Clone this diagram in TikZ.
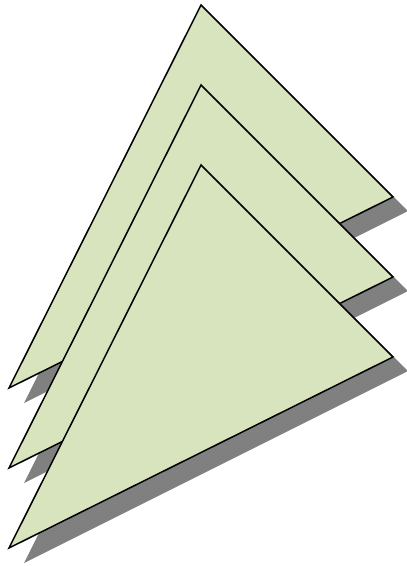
\documentclass[tikz,border=0pt]{standalone}
\definecolor{trifill}{HTML}{D7E4BD}
\definecolor{shade}{HTML}{808080}
\begin{document}
\begin{tikzpicture}[x=1pt,y=-1pt,
  tri/.style={fill=trifill,draw=black,line width=1.5pt,line join=miter},
  trishadow/.style={fill=shade}]
\useasboundingbox (0,0) rectangle (407,566);
\foreach \dy in {0,80,160}{
  \fill[trishadow] (216,{19+\dy}) -- (408,{211+\dy}) -- (24,{403+\dy}) -- cycle;
  \draw[tri] (201,{5+\dy}) -- (393,{197+\dy}) -- (9,{388+\dy}) -- cycle;
}
\end{tikzpicture}
\end{document}
